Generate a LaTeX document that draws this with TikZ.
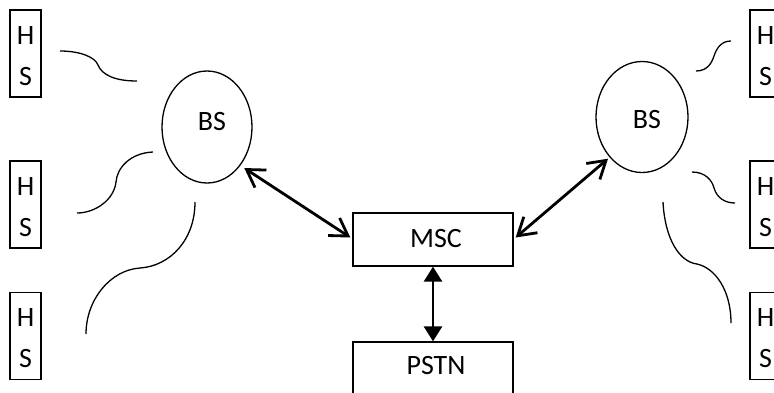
\documentclass[tikz,border=0pt]{standalone}
\usepackage{fontspec}
\setmainfont{Carlito}
\usetikzlibrary{arrows.meta,shapes.geometric}
\begin{document}
\begin{tikzpicture}[x=1pt,y=-1pt,
  hsbox/.style={draw,line width=1.3pt,minimum width=31pt,minimum height=87pt,inner sep=0pt},
  bsell/.style={draw,ellipse,line width=1.3pt,minimum width=90pt,minimum height=112pt,inner sep=0pt},
  rbox/.style={draw,line width=1.3pt,minimum width=160pt,minimum height=53pt,inner sep=0pt},
  lbl/.style={font=\fontsize{28pt}{31pt}\selectfont,anchor=base,inner sep=0pt},
  wave/.style={line width=1.3pt},
  dbl/.style={line width=2.8pt,{Straight Barb[length=17pt,width=21pt]}-{Straight Barb[length=17pt,width=21pt]}},
  dblf/.style={line width=2.8pt,{Triangle[length=15pt,width=18pt]}-{Triangle[length=15pt,width=18pt]}}]
\useasboundingbox (0,0) rectangle (774,392);
% handset boxes left
\node[hsbox] (hl1) at (25.5,53.5) {};
\node[hsbox] (hl2) at (25.5,204.5) {};
\node[hsbox] (hl3) at (25.5,336) {};
% handset boxes right
\node[hsbox] (hr1) at (765.5,53.5) {};
\node[hsbox] (hr2) at (765.5,204.5) {};
\node[hsbox] (hr3) at (765.5,336) {};
\foreach \b in {hl1,hl2,hl3,hr1,hr2,hr3}{
  \node[lbl] (\b h) at ([yshift=9.5pt]\b.center) {H};
  \node[lbl] (\b s) at ([yshift=-31.5pt]\b.center) {S};
}
% base stations
\node[bsell] (lbs) at (207,127) {};
\node[lbl] (lbst) at (212,130) {BS};
\node[bsell,minimum width=92pt,minimum height=111pt] (rbs) at (642,117) {};
\node[lbl] (rbst) at (647,128) {BS};
% MSC and PSTN
\node[rbox] (msc) at (433,239.5) {};
\node[lbl] (msct) at (436,247) {MSC};
\node[rbox,minimum height=60pt] (pstn) at (433,372) {};
\node[lbl] (pstnt) at (436,374) {PSTN};
% radio links left
\draw[wave] (60,51) .. controls (80,51) and (95,57) .. (98,65) .. controls (102,75) and (115,81) .. (137,81);
\draw[wave] (153,152) .. controls (130,153) and (117,168) .. (116,182) .. controls (114,200) and (95,213) .. (77,213);
\draw[wave] (195,202) .. controls (195,240) and (170,266) .. (140,268) .. controls (110,270) and (86,300) .. (86,334);
% radio links right
\draw[wave] (696,71) .. controls (708,71) and (712,62) .. (714,56) .. controls (717,47) and (722,41) .. (731,41);
\draw[wave] (692,172) .. controls (705,172) and (712,180) .. (714,188) .. controls (717,198) and (725,203) .. (735,203);
\draw[wave] (663,202) .. controls (665,240) and (680,262) .. (697,264) .. controls (715,268) and (731,290) .. (731,323);
% connections
\draw[dbl] ([xshift=5pt,yshift=-1pt]lbs.south east) -- ([xshift=-2pt,yshift=2pt]msc.west);
\draw[dbl] ([xshift=2pt,yshift=2pt]msc.east) -- ([xshift=-1pt,yshift=-2pt]rbs.south west);
\draw[dblf] (msc.south) -- (pstn.north);
\end{tikzpicture}
\end{document}
